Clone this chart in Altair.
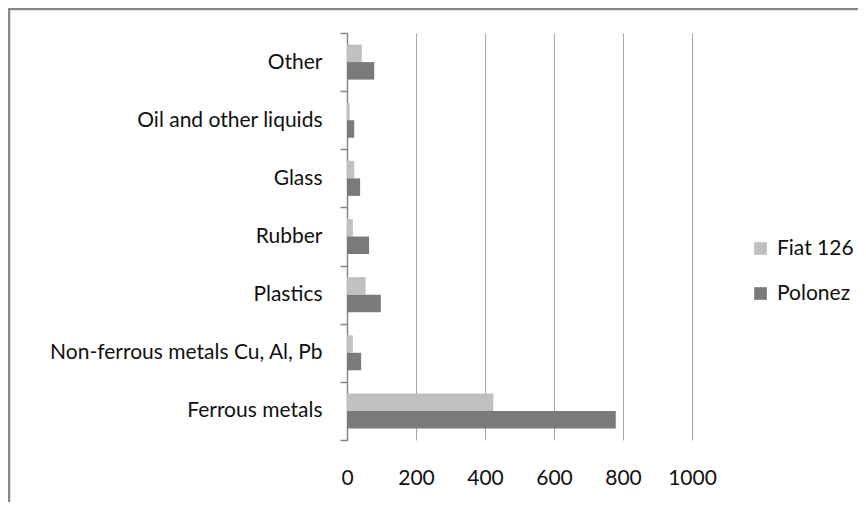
import altair as alt
import pandas as pd

categories = ["Other", "Oil and other liquids", "Glass", "Rubber", "Plastics",
              "Non-ferrous metals Cu, Al, Pb", "Ferrous metals"]
series_names = ["Fiat 126", "Polonez"]
fiat = [43, 8, 21, 17, 54, 17, 424]
polonez = [79, 21, 38, 64, 98, 41, 779]
x_ticks = [0, 200, 400, 600, 800, 1000]
colors = ["#c0c0c0", "#7a7a7a"]

rows = []
for c, f, p in zip(categories, fiat, polonez):
    rows.append({"category": c, "series": series_names[0], "value": f})
    rows.append({"category": c, "series": series_names[1], "value": p})
df = pd.DataFrame(rows)

FONT = "Lato"
FS = 21

bars = alt.Chart(df).mark_bar(size=17.5).encode(
    x=alt.X("value:Q",
            scale=alt.Scale(domain=[0, 1000], nice=False, zero=True),
            axis=alt.Axis(values=x_ticks, title=None, grid=True, gridColor="#a6a6a6",
                          gridWidth=1, domain=False, ticks=False, tickSize=0,
                          format="d", labelFlush=False,
                          labelPadding=38, labelFont=FONT, labelFontSize=FS,
                          labelOverlap=False, labelColor="#111111",
                          labelBaseline="middle")),
    y=alt.Y("category:N", sort=categories,
            scale=alt.Scale(paddingInner=0, paddingOuter=0),
            axis=alt.Axis(title=None, tickBand="extent", tickSize=7, tickColor="#868686",
                          tickWidth=1.5, domainColor="#868686", domainWidth=1.5,
                          labelPadding=18, labelFont=FONT, labelFontSize=FS,
                          labelColor="#111111", labelLimit=400)),
    yOffset=alt.YOffset("series:N", sort=series_names,
                        scale=alt.Scale(paddingInner=0, paddingOuter=0.66)),
    color=alt.Color("series:N", sort=series_names,
                    scale=alt.Scale(domain=series_names, range=colors),
                    legend=alt.Legend(title=None, orient="none", legendX=403, legendY=205,
                                      symbolType="square", symbolSize=160,
                                      symbolStrokeWidth=0, labelFont=FONT,
                                      labelFontSize=FS, labelColor="#111111",
                                      labelOffset=6, rowPadding=23, padding=0)),
)

frame_df = pd.DataFrame({"k": [0]})
frame_left = alt.Chart(frame_df).mark_rule(color="#888888", strokeWidth=2.5).encode(
    x=alt.value(-338), y=alt.value(-25), y2=alt.value(480)
)
frame_top = alt.Chart(frame_df).mark_rule(color="#888888", strokeWidth=2.5).encode(
    x=alt.value(-339), x2=alt.value(520), y=alt.value(-24)
)

chart = alt.layer(bars, frame_left, frame_top).properties(
    width=345, height=407,
    autosize=alt.AutoSizeParams(type="none"),
    padding={"left": 339, "top": 25, "right": 166, "bottom": 62},
).configure_view(strokeWidth=0)

chart.save("out.html", embed_options={"renderer": "svg", "actions": False})
